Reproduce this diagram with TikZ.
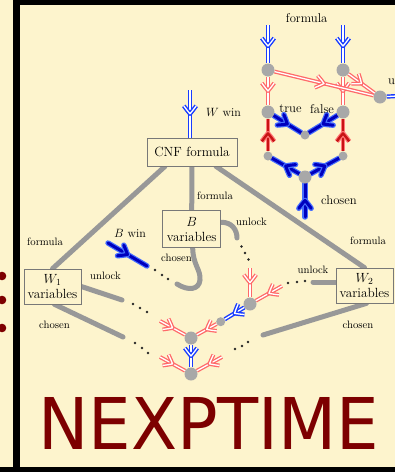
\documentclass[tikz,border=0pt]{standalone}
\usepackage{fix-cm}
\usepackage{fontspec}
\usepackage{graphicx}
\usetikzlibrary{decorations.markings}
\newfontfamily\nexfont{DejaVu Sans}
\definecolor{bgc}{RGB}{253,244,205}
\definecolor{darkr}{RGB}{125,0,0}
\definecolor{lgray}{RGB}{152,152,152}
\definecolor{ngray}{RGB}{168,168,168}
\definecolor{boxd}{RGB}{120,120,120}
\definecolor{blueA}{RGB}{25,60,255}
\definecolor{redA}{RGB}{255,105,105}
\definecolor{blueK}{RGB}{0,0,190}
\definecolor{blueH}{RGB}{70,110,255}
\definecolor{redK}{RGB}{200,20,20}
\definecolor{redH}{RGB}{255,120,120}
\pgfdeclarelayer{back}
\pgfdeclarelayer{edges}
\pgfsetlayers{back,edges,main}
\tikzset{
  glink/.style={draw=lgray, line width=5pt, line cap=round},
  gnode/.style={circle, fill=ngray, inner sep=0pt, minimum size=13pt},
  gsmall/.style={circle, fill=ngray, inner sep=0pt, minimum size=9pt},
  vbox/.style={draw=boxd, line width=0.7pt, fill=bgc, align=center, inner sep=1pt, font=\fontsize{13.3}{15}\selectfont},
  lab/.style={font=\fontsize{10.7}{12}\selectfont, inner sep=0pt},
  mlab/.style={font=\fontsize{12}{13}\selectfont, inner sep=0pt},
  tlab/.style={font=\fontsize{12.7}{14}\selectfont, inner sep=0pt},
  blueD/.style={draw=blueA, double=white, double distance=1.3pt, line width=1.45pt, line join=round},
  redD/.style={draw=redA, double=white, double distance=1.3pt, line width=1.3pt, line join=round},
  blueT/.style={draw=blueK, line width=3pt, line join=round, line cap=round, preaction={draw=blueH, line width=5.4pt, line cap=round, line join=round}},
  redT/.style={draw=redK, line width=2.4pt, line join=round, preaction={draw=redH, line width=4.8pt, line join=round}},
  mk/.style 2 args={postaction={decorate, decoration={markings, mark=at position #1 with {\draw[#2] (-8pt,6.2pt) .. controls (-3pt,2.5pt) .. (0pt,0pt) .. controls (-3pt,-2.5pt) .. (-8pt,-6.2pt);}}}},
}
\begin{document}
\begin{tikzpicture}[x=1pt,y=-1pt]
\useasboundingbox (0,0) rectangle (395,472);
\begin{pgfonlayer}{back}
\fill[bgc] (0,0) rectangle (395,472);
\fill[black] (13,0) rectangle (20,472);
\fill[black] (13,0) rectangle (395,5);
\fill[black] (0,467) rectangle (395,472);
\fill[darkr] (2,276) circle (4.3pt) (2,300) circle (4.3pt) (2,328) circle (4.3pt);
\end{pgfonlayer}

% boxes
\node[vbox, minimum width=90pt, minimum height=28pt] (cnf) at (192,152) {CNF formula};
\node[vbox, minimum width=57pt, minimum height=35pt] (w1) at (52.5,286.5) {$W_1$\\variables};
\node[vbox, minimum width=57pt, minimum height=35pt] (w2) at (364.5,285.5) {$W_2$\\variables};
\node[vbox, minimum width=58pt, minimum height=37pt] (bv) at (191.7,229.3) {$B$\\variables};

% labels main
\node[lab] (lf0) at (215,196) {formula};
\node[lab] (lf1) at (45,242) {formula};
\node[lab] (lf2) at (368,241) {formula};
\node[lab] (lu0) at (251.5,222) {unlock};
\node[lab] (lc0) at (176.5,257.5) {chosen};
\node[lab] (lu1) at (105.5,276) {unlock};
\node[lab] (lc1) at (54.5,325) {chosen};
\node[lab] (lu2) at (313,270) {unlock};
\node[lab] (lc2) at (358,325) {chosen};
\node[mlab] (lbw) at (130,233) {$B$ win};
\node[mlab] (lww) at (223.5,112.7) {$W$ win};

% labels top right
\node[tlab] (tf) at (306.7,18) {formula};
\node[tlab] (ttrue) at (290.5,109) {true};
\node[tlab] (tfalse) at (322,109) {false};
\node[tlab] (tch) at (339,200) {chosen};
\node[tlab, anchor=west] (tun) at (388,80) {unlock};

% gray nodes top right
\node[gnode] (L1) at (268,70) {};
\node[gnode] (R1) at (343,70) {};
\node[gnode] (L2) at (268,112) {};
\node[gnode] (R2) at (343,112) {};
\node[gsmall] (M) at (305,135) {};
\node[gsmall] (L3) at (268,156) {};
\node[gsmall] (R3) at (343,156) {};
\node[gnode] (N) at (305,177) {};
\node[gnode] (U) at (380,97) {};

% gray nodes main
\node[gnode] (D) at (250,304) {};
\node[gsmall] (S) at (220.7,321.7) {};
\node[gnode] (A) at (191,338) {};
\node[gnode] (C) at (191,374) {};

% coordinates
\coordinate (tL) at (268,25);
\coordinate (tR) at (343,25);
\coordinate (bN) at (305,217);
\coordinate (rU) at (397,96);
\coordinate (wtop) at (190,90);
\coordinate (bw1) at (108,243);
\coordinate (bw2) at (147,266);
\coordinate (rtop) at (250,268);
\coordinate (r2) at (282,286);
\coordinate (r3) at (160,321);
\coordinate (r4) at (160,357);
\coordinate (r5) at (222,357);
\coordinate (s1) at (122,300);
\coordinate (s2) at (123,337);
\coordinate (s3) at (313,282);
\coordinate (s4) at (263,335);
\coordinate (bcu) at (237,238);
\coordinate (bcc) at (177,284);

% NEXPTIME
\node[anchor=south west, inner sep=0pt, text=darkr] (nx) at (38,450) {\resizebox{341pt}{52pt}{\nexfont NEXPTIME}};

\begin{pgfonlayer}{edges}
% gray links
\draw[glink] ([xshift=-27pt]cnf.south) -- (w1.north);
\draw[glink] ([xshift=24pt]cnf.south) -- (w2.north);
\draw[glink] (cnf.south) -- (bv.north);
\draw[glink] (w1.east) -- (s1);
\draw[glink] ([xshift=2pt]w1.south) -- (s2);
\draw[glink] (w2.west |- s3) -- (s3);
\draw[glink] ([xshift=2pt]w2.south) -- (s4);
\draw[glink] ([yshift=7pt]bv.east) .. controls (232,222) and (237,230) .. (bcu);
\draw[glink] ([xshift=1pt]bv.south) .. controls (193,265) and (201,270) .. (200,280) .. controls (199,290) and (188,291) .. (bcc);

% dots
\fill[black!85] (133,304) circle (1.4pt) (140,308) circle (1.4pt) (147,312) circle (1.4pt);
\fill[black!85] (135,343) circle (1.4pt) (142,348) circle (1.4pt) (148,353) circle (1.4pt);
\fill[black!85] (155,270) circle (1.4pt) (162,275) circle (1.4pt) (168,279) circle (1.4pt);
\fill[black!85] (241.5,246.5) circle (1.4pt) (245,253) circle (1.4pt) (248.5,259.5) circle (1.4pt);
\fill[black!85] (288,283) circle (1.4pt) (297,282) circle (1.4pt) (305,281) circle (1.4pt);
\fill[black!85] (248,342) circle (1.4pt) (242,346) circle (1.4pt) (235,349) circle (1.4pt);

% top right gadget
\draw[blueD, mk={0.55}{blueD}] (tL) -- (L1);
\draw[blueD, mk={0.55}{blueD}] (tR) -- (R1);
\draw[redD, mk={0.5}{redD}] (L1) -- (L2);
\draw[redD, mk={0.5}{redD}] (R1) -- (R2);
\draw[redD, mk={0.5}{redD}] (L1) -- (U);
\draw[redD, mk={0.5}{redD}] (R1) -- (U);
\draw[blueD] (U) -- (rU);
\draw[blueT, mk={0.5}{blueT}] (L2) -- (M);
\draw[blueT, mk={0.5}{blueT}] (R2) -- (M);
\draw[redT, mk={0.55}{redT}] (L3) -- (L2);
\draw[redT, mk={0.55}{redT}] (R3) -- (R2);
\draw[blueT, mk={0.5}{blueT}] (N) -- (L3);
\draw[blueT, mk={0.5}{blueT}] (N) -- (R3);
\draw[blueT, mk={0.5}{blueT}] (bN) -- (N);

% main gadget
\draw[blueD, mk={0.5}{blueD}] (wtop) -- (wtop |- cnf.north);
\draw[blueT, mk={0.5}{blueT}] (bw1) -- (bw2);
\draw[redD, mk={0.5}{redD}] (rtop) -- (D);
\draw[redD, mk={0.5}{redD}] (r2) -- (D);
\draw[blueD, mk={0.5}{blueD}] (D) -- (S);
\draw[redD, mk={0.5}{redD}] (S) -- (A);
\draw[redD, mk={0.5}{redD}] (r3) -- (A);
\draw[blueD, mk={0.5}{blueD}] (A) -- (C);
\draw[redD, mk={0.5}{redD}] (r4) -- (C);
\draw[redD, mk={0.5}{redD}] (r5) -- (C);
\end{pgfonlayer}
\end{tikzpicture}
\end{document}
